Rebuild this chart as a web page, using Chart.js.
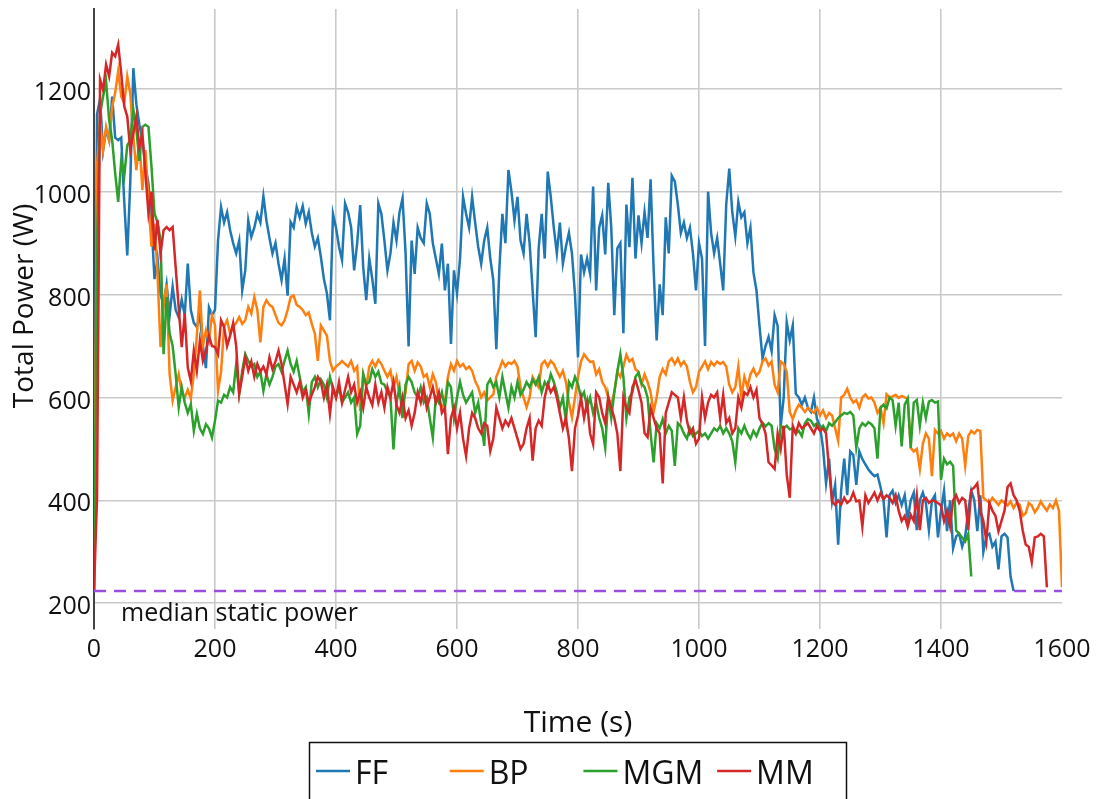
<!DOCTYPE html>
<html>
<head>
<meta charset="utf-8">
<title>Total Power over Time</title>
<script src="https://cdn.jsdelivr.net/npm/chart.js@4.4.1/dist/chart.umd.min.js"></script>
<style>
  html, body { margin: 0; padding: 0; background: #ffffff; }
  #wrap { position: relative; width: 1096px; height: 799px; }
</style>
</head>
<body>
<div id="wrap"><canvas id="chart"></canvas></div>
<script>
// Sampling interval of the power traces (seconds)
const timeStep = 5;

const seriesNames = ['FF', 'BP', 'MGM', 'MM'];
const seriesColors = ['#1f77b4', '#ff7f0e', '#2ca02c', '#d62728'];

// Total power (W), one value every timeStep seconds starting at t = 0
const ffPower = [
  225,1150,1180,1080,1120,1100,1185,1105,1100,1105,
  980,876,1020,1240,1170,1130,1100,1050,1016,940,
  830,870,800,780,820,760,815,770,756,790,
  760,860,770,745,737,760,700,657,775,760,
  770,905,970,940,960,925,900,880,905,808,
  847,944,912,930,957,940,991,944,910,880,
  900,860,828,870,798,941,930,970,950,972,
  938,960,920,893,910,873,830,802,750,957,
  930,893,867,977,960,931,847,900,974,853,
  789,870,830,782,977,957,905,847,880,940,
  905,960,987,880,699,905,840,930,910,900,
  977,957,900,870,840,899,808,860,704,847,
  802,870,990,957,930,990,940,893,860,905,
  930,870,828,694,850,957,900,1042,1000,944,
  990,905,880,957,900,808,717,890,957,870,
  1039,990,930,880,940,860,893,920,880,800,
  678,878,843,870,840,1010,808,930,954,878,
  1017,930,760,890,900,725,975,892,1027,870,
  954,900,960,910,1024,850,711,820,760,950,
  880,1031,1020,975,920,940,910,930,880,808,
  900,870,700,1000,920,880,910,860,808,975,
  1045,960,913,980,950,960,900,930,843,808,
  739,676,700,718,690,760,739,544,600,746,
  711,740,607,600,586,600,580,572,600,558,
  544,502,433,481,398,430,314,420,481,410,
  495,488,430,495,480,470,460,453,447,450,
  426,400,328,410,419,395,410,391,410,363,
  400,415,342,400,415,395,342,400,410,328,
  380,419,340,400,307,330,335,310,330,380,
  419,400,340,410,300,330,335,310,320,266,
  330,335,328,252,224
];

const bpPower = [
  225,1050,1133,1080,1126,1100,1165,1192,1234,1185,
  1172,1224,1190,1107,1042,1100,1003,1081,983,893,
  938,840,698,780,820,645,594,620,645,610,
  600,615,598,645,720,808,700,730,710,760,
  740,613,650,737,750,724,737,745,756,743,
  750,776,763,795,770,707,776,789,780,776,
  760,745,740,750,770,795,798,780,776,770,
  760,765,743,724,671,740,730,720,671,652,
  660,665,671,665,660,671,652,660,574,645,
  620,660,671,660,673,665,652,640,652,620,
  640,606,587,610,665,671,652,668,660,640,
  645,620,645,630,594,581,590,640,665,652,
  671,660,665,655,660,652,632,620,600,610,
  594,600,606,640,655,671,660,668,665,671,
  660,620,600,581,600,640,630,620,665,671,
  660,671,665,652,640,652,630,590,561,600,
  640,670,684,676,669,670,645,655,630,620,
  600,586,610,650,640,660,683,670,675,655,
  650,625,645,630,610,572,600,640,655,645,
  670,676,665,676,662,670,660,630,610,620,
  650,660,670,655,669,662,670,665,669,660,
  625,610,620,660,600,640,620,645,656,642,
  650,670,676,662,670,625,610,670,665,650,
  572,558,575,586,580,572,580,575,570,580,
  565,575,560,570,565,540,516,600,605,617,
  600,590,595,580,600,606,598,600,590,570,
  580,550,606,600,602,605,599,603,600,598,
  502,495,500,461,510,530,520,447,537,530,
  535,520,530,525,530,515,530,520,467,525,
  535,530,537,535,405,400,395,405,398,391,
  400,395,390,398,385,395,392,370,375,395,
  390,377,385,398,388,380,392,385,400,380,
  231
];

const mgmPower = [
  225,899,1150,1185,1214,1140,1100,1036,980,1060,
  1030,1090,1100,1160,1120,1060,1126,1130,1126,1049,
  958,940,906,684,795,724,700,645,581,620,
  590,570,587,535,568,540,529,548,540,522,
  555,594,590,605,600,620,610,665,607,652,
  684,671,660,665,640,650,613,645,625,640,
  660,665,650,671,691,665,650,671,640,610,
  620,568,630,640,620,635,625,600,640,615,
  600,620,590,600,610,590,600,529,545,645,
  625,630,655,640,650,628,625,610,600,499,
  590,620,560,625,640,630,610,600,620,590,
  600,560,522,600,590,610,580,630,620,560,
  600,630,605,590,600,610,570,590,550,506,
  625,635,620,630,600,640,610,580,620,600,
  630,605,615,630,620,635,625,640,610,630,
  620,645,630,610,580,600,555,630,620,640,
  625,600,610,580,600,570,590,560,540,502,
  600,560,610,650,684,640,560,600,610,640,
  648,627,620,600,530,474,550,540,558,530,
  545,535,467,550,544,530,520,540,525,530,
  535,525,530,520,530,540,535,545,530,540,
  530,515,474,540,530,545,530,520,535,525,
  540,551,544,550,545,500,481,545,540,545,
  538,540,530,535,525,550,558,555,545,550,
  540,545,535,550,545,552,560,565,570,568,
  572,565,502,540,550,545,552,548,540,481,
  580,586,579,600,595,545,590,505,586,598,
  502,590,595,545,590,560,592,595,590,592,
  440,481,470,475,467,342,335,328,320,335,
  252
];

const mmPower = [
  225,405,1218,1198,1247,1224,1270,1263,1286,1230,
  1166,1146,1081,1113,1146,1087,1113,1036,958,1000,
  886,945,880,925,931,925,931,853,775,698,
  763,658,632,691,652,710,671,690,720,700,
  698,684,750,737,700,720,745,700,607,640,
  678,652,670,640,665,650,660,645,678,655,
  670,691,665,626,587,640,625,610,630,600,
  615,590,605,620,640,630,600,625,568,620,
  600,630,590,615,640,610,625,590,610,580,
  620,600,585,625,590,610,580,620,600,630,
  585,570,600,560,575,545,570,610,590,620,
  580,600,620,590,610,570,580,490,560,580,
  540,570,520,486,540,570,560,540,530,550,
  545,496,520,580,560,540,555,545,560,540,
  520,500,510,540,560,477,540,555,545,600,
  626,610,620,600,570,540,560,520,457,540,
  565,600,560,590,530,509,610,600,570,550,
  600,580,560,530,457,600,580,570,620,634,
  614,590,531,523,580,560,540,530,433,570,
  590,610,605,600,560,600,555,530,540,510,
  520,600,560,590,605,600,610,560,605,550,
  560,530,540,600,580,610,605,620,600,615,
  560,548,530,474,468,461,530,500,545,450,
  405,545,530,550,540,545,550,540,530,545,
  535,540,530,460,398,391,400,392,405,395,
  400,415,398,400,349,410,395,405,415,400,
  414,402,410,405,395,410,380,360,370,349,
  372,360,410,342,400,405,395,400,398,395,
  390,360,380,350,400,410,395,405,400,342,
  420,425,433,380,360,321,395,380,370,340,
  360,380,426,433,410,400,380,342,314,310,
  280,328,330,335,330,231
];

// Median static power reference level (W) and the span it covers (s)
const medianStaticPower = 224;
const medianSpan = [0, 1600];
const medianLabel = 'median static power';

// Axis ticks and titles
const xTicks = [0, 200, 400, 600, 800, 1000, 1200, 1400, 1600];
const yTicks = [200, 400, 600, 800, 1000, 1200];
const xTitle = 'Time (s)';
const yTitle = 'Total Power (W)';

const FONT = '"Open Sans", "Noto Sans", sans-serif';
const TEXT = '#111111';
const GRID = '#c9c9c9';

function toPoints(values) {
  return values.map((v, i) => ({ x: i * timeStep, y: v }));
}

const powerSeries = [ffPower, bpPower, mgmPower, mmPower];

const datasets = powerSeries.map((vals, i) => ({
  label: seriesNames[i],
  data: toPoints(vals),
  borderColor: seriesColors[i],
  backgroundColor: seriesColors[i],
  borderWidth: 2.5,
  pointRadius: 0,
  tension: 0,
  fill: false,
  order: powerSeries.length - i + 1   // later series are painted on top
}));

datasets.push({
  label: medianLabel,
  data: medianSpan.map(t => ({ x: t, y: medianStaticPower })),
  borderColor: '#9b4fe0',
  borderWidth: 2.4,
  borderDash: [12, 8],
  pointRadius: 0,
  fill: false,
  order: 0
});

// Axis titles, the median label and the boxed legend
const overlay = {
  id: 'overlay',
  afterDraw(chart) {
    const { ctx, chartArea, scales } = chart;
    const xs = scales.x, ys = scales.y;
    ctx.save();
    ctx.fillStyle = TEXT;

    ctx.font = '25px ' + FONT;
    ctx.textAlign = 'left';
    ctx.textBaseline = 'alphabetic';
    ctx.fillText(medianLabel, xs.getPixelForValue(0) + 27, ys.getPixelForValue(medianStaticPower) + 30);

    ctx.font = '30px ' + FONT;
    ctx.textAlign = 'center';
    ctx.fillText(xTitle, (chartArea.left + chartArea.right) / 2, 732);

    ctx.save();
    ctx.translate(33, 306);
    ctx.rotate(-Math.PI / 2);
    ctx.font = '28px ' + FONT;
    ctx.fillText(yTitle, 0, 0);
    ctx.restore();

    // legend frame
    ctx.strokeStyle = '#111111';
    ctx.lineWidth = 1.5;
    ctx.strokeRect(309.5, 742.5, 537, 90);

    ctx.font = '32px ' + FONT;
    ctx.textAlign = 'left';
    seriesNames.forEach((name, i) => {
      const x0 = 316 + i * 133.7;
      ctx.strokeStyle = seriesColors[i];
      ctx.lineWidth = 2.5;
      ctx.beginPath();
      ctx.moveTo(x0, 771);
      ctx.lineTo(x0 + 34, 771);
      ctx.stroke();
      ctx.fillStyle = TEXT;
      ctx.fillText(name, x0 + 39, 784);
    });
    ctx.restore();
  }
};

const plainNumber = v => String(v);

new Chart(document.getElementById('chart'), {
  type: 'line',
  data: { datasets },
  options: {
    responsive: true,
    maintainAspectRatio: false,
    animation: false,
    events: [],
    layout: { padding: { top: 9, right: 34, left: 0, bottom: 0 } },
    plugins: {
      legend: { display: false },
      tooltip: { enabled: false },
      title: { display: false }
    },
    scales: {
      x: {
        type: 'linear',
        min: 0,
        max: 1600,
        afterBuildTicks: axis => { axis.ticks = xTicks.map(v => ({ value: v })); },
        afterFit: axis => {
          axis.height = 170;
          axis.paddingLeft = 0;
          axis.paddingRight = 0;
        },
        ticks: {
          font: { family: FONT, size: 25 },
          color: TEXT,
          padding: 6,
          maxRotation: 0,
          autoSkip: false,
          callback: plainNumber
        },
        grid: {
          drawTicks: false,
          lineWidth: 1.6,
          color: c => (c.tick && (c.tick.value === 0 || c.tick.value === 1600)) ? 'rgba(0,0,0,0)' : GRID
        },
        border: { display: false }
      },
      y: {
        type: 'linear',
        min: 150,
        max: 1355,
        afterBuildTicks: axis => { axis.ticks = yTicks.map(v => ({ value: v })); },
        afterFit: axis => {
          axis.width = 94;
          axis.paddingTop = 0;
          axis.paddingBottom = 0;
        },
        ticks: {
          font: { family: FONT, size: 25 },
          color: TEXT,
          padding: 3,
          labelOffset: 4,
          autoSkip: false,
          callback: plainNumber
        },
        grid: {
          drawTicks: false,
          lineWidth: 1.6,
          color: GRID
        },
        border: { display: true, color: '#444444', width: 2 }
      }
    }
  },
  plugins: [overlay]
});
</script>
</body>
</html>
